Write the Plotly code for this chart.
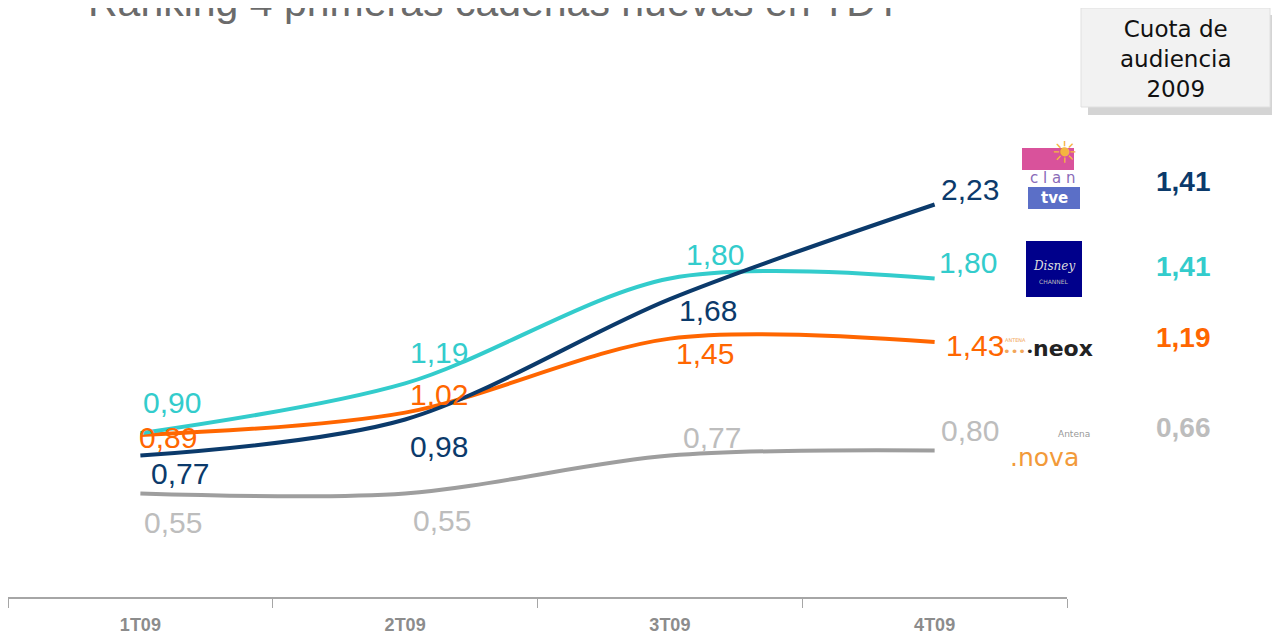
import plotly.graph_objects as go

# ---------------- data ----------------
quarters = ["1T09", "2T09", "3T09", "4T09"]
channels = ["Clan TVE", "Disney Channel", "Neox", "Nova"]
clan = [0.77, 0.98, 1.68, 2.23]
disney = [0.90, 1.19, 1.80, 1.80]
neox = [0.89, 1.02, 1.45, 1.43]
nova = [0.55, 0.55, 0.77, 0.80]
share_2009 = [1.41, 1.41, 1.19, 0.66]
title_text = "Ranking 4 primeras cadenas nuevas en TDT"
box_text = "Cuota de<br>audiencia<br>2009"

# ---------------- style ----------------
W, H = 1280, 637
OFF = 8  # page body margin in the screenshot
ML, MR, MT, MB = 0, 221, 122, 48
Y_RANGE = [-0.052, 2.663]
line_colors = ["#0B3A6B", "#33CCCC", "#FF6600", "#9E9E9E"]
label_colors = ["#0B3A6B", "#33CCCC", "#FF6600", "#BDBDBD"]
FONT = "Liberation Sans, Arial, sans-serif"

# label offsets (px) for each series / point
offsets = [
    [(40, -18), (34, -27), (38, -11), (35, 15)],
    [(32, 31), (34, 31), (45, 24), (33, 16)],
    [(28, -3), (34, 18), (35, -15), (40, -3)],
    [(33, -29), (37, -27), (42, 18), (35, 20)],
]
right_value_py = [182, 266, 337, 427]

pw = W - ML - MR
ph = H - MT - MB


def px(x):
    return (x - OFF - ML) / pw


def py(y):
    return (H - MB - (y - OFF)) / ph


series = [clan, disney, neox, nova]
fig = go.Figure()
for idx in [3, 2, 1, 0]:
    fig.add_trace(go.Scatter(
        x=quarters, y=series[idx], mode="lines", name=channels[idx],
        line=dict(color=line_colors[idx], width=4, shape="spline", smoothing=0.9),
        hoverinfo="skip", showlegend=False,
    ))

annotations = []
for s, vals in enumerate(series):
    for i, v in enumerate(vals):
        dx, dy = offsets[s][i]
        annotations.append(dict(
            x=quarters[i], y=v, xref="x", yref="y", xanchor="center", yanchor="middle",
            text=f"{v:.2f}".replace(".", ","), showarrow=False,
            xshift=dx, yshift=dy,
            font=dict(family=FONT, size=30, color=label_colors[s]),
        ))

for s, v in enumerate(share_2009):
    annotations.append(dict(
        x=px(1183), y=py(right_value_py[s]), xref="paper", yref="paper",
        xanchor="center", yanchor="middle",
        text=f"<b>{v:.2f}</b>".replace(".", ","), showarrow=False,
        font=dict(family=FONT, size=28, color=label_colors[s]),
    ))

annotations.append(dict(
    x=px(86), y=py(2), xref="paper", yref="paper", xanchor="left", yanchor="middle",
    text=title_text, showarrow=False,
    font=dict(family=FONT, size=41, color="#6B6B6B"),
))

annotations.append(dict(
    x=px(1176), y=py(59), xref="paper", yref="paper", xanchor="center", yanchor="middle",
    text=box_text, showarrow=False, align="center",
    font=dict(family="DejaVu Sans, sans-serif", size=23, color="#111111"),
))

shapes = [
    dict(type="rect", xref="paper", yref="paper", x0=px(1088), x1=px(1278), y0=py(115), y1=py(15),
         fillcolor="#D4D4D4", line=dict(width=0), layer="below"),
    dict(type="rect", xref="paper", yref="paper", x0=px(1081), x1=px(1270), y0=py(107), y1=py(8),
         fillcolor="#F2F2F2", line=dict(color="#E0E0E0", width=1), layer="below"),
    # Clan logo approximation
    dict(type="rect", xref="paper", yref="paper", x0=px(1022), x1=px(1074), y0=py(170), y1=py(148),
         fillcolor="#D9529B", line=dict(width=0)),
    dict(type="rect", xref="paper", yref="paper", x0=px(1028), x1=px(1080), y0=py(209), y1=py(187),
         fillcolor="#5B6FC7", line=dict(width=0)),
    # Disney logo approximation
    dict(type="rect", xref="paper", yref="paper", x0=px(1026), x1=px(1082), y0=py(297), y1=py(241),
         fillcolor="#00008B", line=dict(width=0)),
]

annotations += [
    dict(x=px(1052), y=py(178), xref="paper", yref="paper", xanchor="center", yanchor="middle",
         text="c l a n", showarrow=False,
         font=dict(family="DejaVu Sans", size=15, color="#8A6BB8")),
    dict(x=px(1064), y=py(152), xref="paper", yref="paper", xanchor="center", yanchor="middle",
         text="☀", showarrow=False,
         font=dict(family="DejaVu Sans", size=30, color="#F4B540")),
    dict(x=px(1054), y=py(198), xref="paper", yref="paper", xanchor="center", yanchor="middle",
         text="<b>tve</b>", showarrow=False,
         font=dict(family="DejaVu Sans", size=15, color="#FFFFFF")),
    dict(x=px(1054), y=py(266), xref="paper", yref="paper", xanchor="center", yanchor="middle",
         text="<i>Disney</i>", showarrow=False,
         font=dict(family="DejaVu Serif", size=12, color="#DDDDDD")),
    dict(x=px(1054), y=py(281), xref="paper", yref="paper", xanchor="center", yanchor="middle",
         text="CHANNEL", showarrow=False,
         font=dict(family="DejaVu Sans", size=6, color="#BBBBBB")),
    dict(x=px(1003), y=py(340), xref="paper", yref="paper", xanchor="left", yanchor="middle",
         text="ANTENA", showarrow=False,
         font=dict(family="DejaVu Sans", size=5, color="#F2A65A")),
    dict(x=px(1001), y=py(351), xref="paper", yref="paper", xanchor="left", yanchor="middle",
         text="<span style='color:#F2A65A'>•••</span>•", showarrow=False,
         font=dict(family="DejaVu Sans", size=13, color="#222222")),
    dict(x=px(1095), y=py(348), xref="paper", yref="paper", xanchor="right", yanchor="middle",
         text="<b>neox</b>", showarrow=False,
         font=dict(family="DejaVu Sans", size=22, color="#222222")),
    dict(x=px(1092), y=py(434), xref="paper", yref="paper", xanchor="right", yanchor="middle",
         text="Antena", showarrow=False,
         font=dict(family="DejaVu Sans", size=9, color="#999999")),
    dict(x=px(1008), y=py(457), xref="paper", yref="paper", xanchor="left", yanchor="middle",
         text=".nova", showarrow=False,
         font=dict(family="DejaVu Sans", size=25, color="#F29A3A")),
]

fig.update_layout(
    width=W, height=H, autosize=False,
    margin=dict(l=ML, r=MR, t=MT, b=MB),
    paper_bgcolor="white", plot_bgcolor="white",
    showlegend=False,
    annotations=annotations, shapes=shapes,
    xaxis=dict(
        type="category", categoryorder="array", categoryarray=quarters,
        range=[-0.5, 3.5], tickson="boundaries", ticks="outside", ticklen=9,
        tickcolor="#A6A6A6", tickwidth=1, showline=True, linecolor="#A6A6A6", linewidth=2,
        showgrid=False, zeroline=False, ticklabelstandoff=10,
        tickfont=dict(family=FONT, size=18, color="#8C8C8C", weight="bold"),
    ),
    yaxis=dict(range=Y_RANGE, visible=False, showgrid=False, zeroline=False),
)

fig.write_html("out.html")
